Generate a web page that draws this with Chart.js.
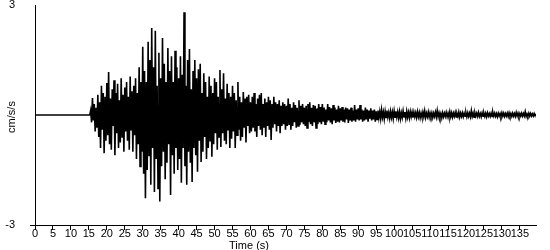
<!DOCTYPE html>
<html>
<head>
<meta charset="utf-8">
<script src="https://cdn.jsdelivr.net/npm/chart.js@4/dist/chart.umd.min.js"></script>
<style>
  html, body { margin: 0; padding: 0; background: #fff; }
  #wrap { width: 550px; height: 250px; }
</style>
</head>
<body>
<div id="wrap"><canvas id="chart" width="550" height="250"></canvas></div>
<script>
// quiet part before the first arrival
const quietTimes = [0, 15.25];
const quietValues = [0, 0];

// sampled trace, one value every quarter second from 15.5 s (cm/s/s)
const sampleStart = 15.5;
const sampleStep = 0.25;
const accel = [
  0.12, -0.2, 0.46, -0.15, 0.3, -0.45, 0.2, -0.35, 0.55, -0.6, 0.35, -0.9, 0.8, -0.4, 0.6, -1.04, 0.5, -0.7, 0.87, -0.55,
  1.17, -0.8, 0.45, -0.95, 0.7, -0.3, 0.95, -1.1, 0.6, -0.5, 0.85, -0.9, 0.4, -0.75, 1.0, -0.6, 0.55, -1.0, 0.75, -0.45,
  0.9, -0.7, 0.5, -0.95, 1.05, -0.4, 0.65, -1.0, 0.8, -0.55, 1.0, -1.2, 0.6, -0.8, 1.3, -1.4, 0.9, -1.0, 1.86, -1.6,
  1.2, -2.27, 0.9, -1.5, 2.0, -1.1, 1.5, -1.9, 2.37, -0.9, 1.3, -2.1, 2.3, -1.2, 0.8, -2.0, 1.7, -2.36, 1.0, -1.4,
  2.1, -1.0, 1.4, -1.75, 0.9, -1.3, 1.83, -0.8, 1.2, -2.18, 1.6, -1.1, 0.9, -1.6, 1.75, -0.9, 1.3, -1.5, 1.0, -1.2,
  1.6, -1.85, 1.1, -0.9, 2.8, -1.4, 0.8, -1.9, 1.5, -1.0, 1.8, -1.3, 0.7, -1.83, 1.2, -0.9, 1.5, -1.1, 1.0, -1.55,
  1.25, -0.7, 1.4, -1.28, 0.6, -1.0, 1.14, -0.6, 0.9, -1.2, 0.5, -0.9, 1.05, -0.7, 0.8, -1.14, 0.6, -0.8, 1.0, -0.5,
  0.9, -0.95, 0.5, -0.6, 1.23, -0.87, 0.7, -0.5, 1.14, -0.7, 0.45, -0.8, 0.85, -0.4, 0.6, -0.9, 0.5, -0.65, 0.8, -0.45,
  0.6, -0.9, 0.4, -0.55, 0.9, -0.4, 0.5, -0.7, 0.35, -0.6, 0.63, -0.35, 0.45, -0.75, 0.5, -0.3, 0.55, -0.5, 0.35, -0.45,
  0.5, -0.35, 0.6, -0.45, 0.3, -0.6, 0.45, -0.3, 0.55, -0.4, 0.6, -0.55, 0.3, -0.35, 0.45, -0.6, 0.35, -0.3, 0.5, -0.4,
  0.4, -0.68, 0.3, -0.35, 0.5, -0.25, 0.35, -0.45, 0.3, -0.3, 0.4, -0.5, 0.25, -0.3, 0.35, -0.25, 0.3, -0.4, 0.25, -0.3,
  0.45, -0.25, 0.3, -0.4, 0.2, -0.3, 0.35, -0.2, 0.27, -0.35, 0.2, -0.3, 0.4, -0.27, 0.25, -0.2, 0.3, -0.25, 0.2, -0.3,
  0.25, -0.35, 0.3, -0.2, 0.35, -0.25, 0.2, -0.3, 0.27, -0.2, 0.25, -0.35, 0.18, -0.25, 0.3, -0.2, 0.22, -0.25, 0.3, -0.18,
  0.2, -0.25, 0.15, -0.2, 0.3, -0.15, 0.22, -0.2, 0.18, -0.25, 0.27, -0.15, 0.2, -0.22, 0.15, -0.18, 0.25, -0.2, 0.18, -0.15,
  0.22, -0.18, 0.15, -0.2, 0.2, -0.12, 0.18, -0.22, 0.15, -0.15, 0.2, -0.18, 0.12, -0.15, 0.27, -0.18, 0.15, -0.12, 0.18, -0.15,
  0.27, -0.12, 0.15, -0.18, 0.12, -0.15, 0.2, -0.12, 0.15, -0.18, 0.12, -0.1, 0.18, -0.15, 0.12, -0.12, 0.15, -0.18, 0.1, -0.12,
  0.12, -0.08, 0.09, -0.1, 0.14, -0.06, 0.08, -0.11, 0.1, -0.07, 0.12, -0.06, 0.07, -0.09, 0.1, -0.07, 0.08, -0.1, 0.11, -0.06,
  0.1, -0.06, 0.08, -0.08, 0.09, -0.1, 0.06, -0.07, 0.11, -0.05, 0.08, -0.09, 0.1, -0.06, 0.07, -0.08, 0.09, -0.05, 0.08, -0.07,
  0.08, -0.05, 0.06, -0.07, 0.09, -0.05, 0.07, -0.08, 0.05, -0.06, 0.08, -0.05, 0.11, -0.07, 0.05, -0.05, 0.08, -0.06, 0.06, -0.04,
  0.06, -0.07, 0.05, -0.04, 0.08, -0.05, 0.12, -0.05, 0.06, -0.06, 0.04, -0.08, 0.06, -0.05, 0.05, -0.04, 0.07, -0.05, 0.05, -0.06,
  0.09, -0.05, 0.06, -0.06, 0.05, -0.04, 0.07, -0.05, 0.04, -0.04, 0.08, -0.06, 0.05, -0.04, 0.06, -0.05, 0.05, -0.03, 0.06, -0.05,
  0.06, -0.04, 0.05, -0.05, 0.12, -0.04, 0.05, -0.06, 0.06, -0.03, 0.05, -0.04, 0.07, -0.04, 0.04, -0.05, 0.06, -0.03, 0.05, -0.04,
  0.05, -0.05, 0.06, -0.03, 0.04, -0.04, 0.05, -0.04, 0.07, -0.03, 0.05, -0.04, 0.04, -0.05, 0.05, -0.03, 0.04, -0.04, 0.06, -0.03,
  0.05, -0.04, 0.04, -0.03, 0.05, -0.04, 0.06, -0.03, 0.04, -0.04, 0.05, -0.03, 0.04, -0.04, 0.07, -0.03, 0.05, -0.04, 0.04, -0.03,
  0.05, -0.03, 0.04, -0.03, 0.09, -0.04, 0.03, -0.03, 0.05, -0.03, 0.04, -0.03, 0.03, -0.03, 0.04, -0.02, 0.03
];

const xTicks = [0, 5, 10, 15, 20, 25, 30, 35, 40, 45, 50, 55, 60, 65, 70, 75, 80, 85, 90, 95,
  100, 105, 110, 115, 120, 125, 130, 135];
const yTicks = [-3, 3];
const xMax = 139.5;

const FONT = "'Liberation Sans', Arial, sans-serif";

const points = quietTimes.map((t, i) => ({ x: t, y: quietValues[i] }))
  .concat(accel.map((v, i) => ({ x: sampleStart + i * sampleStep, y: v })));

const axisTitles = {
  id: "axisTitles",
  afterDraw(chart) {
    const ctx = chart.ctx;
    ctx.save();
    ctx.fillStyle = "#000";
    ctx.font = "11px " + FONT;
    ctx.textAlign = "center";
    ctx.textBaseline = "middle";
    ctx.fillText("Time (s)", 249, 246);
    ctx.translate(12, 117);
    ctx.rotate(-Math.PI / 2);
    ctx.fillText("cm/s/s", 0, 0);
    ctx.restore();
  }
};

new Chart(document.getElementById("chart"), {
  type: "line",
  data: {
    datasets: [{
      data: points,
      borderColor: "#000",
      borderWidth: 1.6,
      pointRadius: 0,
      tension: 0,
      fill: false
    }]
  },
  options: {
    responsive: false,
    animation: false,
    layout: { padding: { left: 0, right: 14, top: 5, bottom: 0 } },
    plugins: { legend: { display: false }, tooltip: { enabled: false } },
    scales: {
      x: {
        type: "linear",
        min: 0,
        max: xMax,
        afterBuildTicks: (scale) => { scale.ticks = xTicks.map((v) => ({ value: v })); },
        afterFit: (scale) => { scale.height = 25; scale.paddingLeft = 0; scale.paddingRight = 0; },
        border: { display: true, color: "#000", width: 1 },
        grid: { drawOnChartArea: false, drawTicks: true, tickLength: 5, color: "#000" },
        ticks: { color: "#000", font: { family: FONT, size: 11 }, padding: -3, maxRotation: 0, autoSkip: false }
      },
      y: {
        min: -3,
        max: 3,
        afterBuildTicks: (scale) => { scale.ticks = yTicks.map((v) => ({ value: v })); },
        afterFit: (scale) => { scale.width = 35; scale.paddingTop = 0; scale.paddingBottom = 0; },
        border: { display: true, color: "#000", width: 1 },
        grid: {
          drawOnChartArea: false,
          drawTicks: true,
          tickLength: 5,
          color: (c) => (c.tick && c.tick.value === -3 ? "#000" : "rgba(0,0,0,0)")
        },
        ticks: { color: "#000", font: { family: FONT, size: 11 }, padding: 15 }
      }
    }
  },
  plugins: [axisTitles]
});
</script>
</body>
</html>
